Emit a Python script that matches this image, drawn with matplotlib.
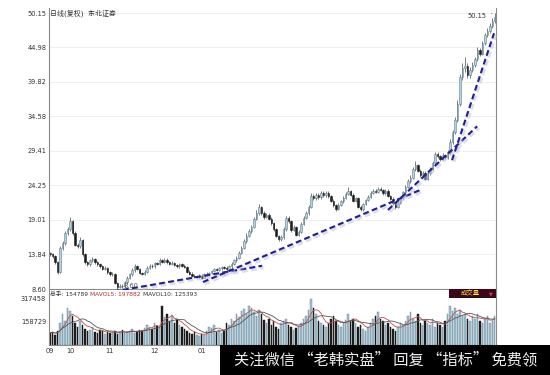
import matplotlib
matplotlib.use("Agg")
import matplotlib.pyplot as plt
import matplotlib.patheffects as pe
from matplotlib.patches import Rectangle
import numpy as np
import pandas as pd

plt.rcParams['font.family'] = ['DejaVu Sans', 'Noto Sans CJK SC']

###############################################################################
# Data

closes = [
    13.8, 13.5, 12.6, 11.2, 14.8, 15.5, 17.0, 17.6, 18.9, 17.1,
    15.2, 15.0, 16.0, 13.8, 12.6, 12.3, 12.9, 13.1, 12.6, 12.3,
    12.0, 11.6, 11.8, 11.1, 10.8, 10.9, 9.5, 8.9, 9.1, 9.0,
    9.6, 10.3, 10.8, 11.4, 12.0, 11.6, 11.0, 10.9, 11.2, 11.8,
    12.1, 12.0, 12.5, 12.4, 12.9, 12.7, 13.0, 12.6, 12.4, 12.5,
    12.2, 12.0, 12.3, 12.1, 11.9, 11.2, 10.9, 10.6, 10.4, 10.5,
    10.6, 10.3, 10.8, 10.9, 11.0, 11.3, 11.6, 11.5, 11.7, 11.9,
    11.8, 11.6, 12.0, 12.4, 12.9, 13.3, 14.0, 14.8, 15.9, 16.6,
    17.3, 18.0, 19.2, 20.1, 20.9, 20.0, 19.5, 19.8, 19.2, 18.5,
    17.6, 16.6, 16.1, 16.4, 17.6, 19.3, 18.8, 17.5, 17.9, 16.8,
    17.2, 18.4, 19.3, 20.0, 21.0, 22.6, 22.3, 22.8, 22.5, 23.0,
    22.7, 23.1, 22.6, 21.9, 21.2, 20.7, 21.3, 21.8, 22.3, 22.9,
    23.3, 22.8, 21.9, 22.3, 21.0, 20.6, 21.4, 22.0, 22.5, 23.1,
    23.4, 23.2, 23.7, 23.5, 23.0, 23.4, 22.6, 22.2, 21.5, 21.0,
    21.6, 22.4, 23.2, 24.0, 24.8, 25.3, 26.6, 27.2, 26.4, 25.8,
    26.1, 25.2, 26.0, 26.7, 27.5, 28.9, 28.6, 28.2, 28.8, 28.5,
    29.3, 30.8, 32.2, 34.0, 36.5, 40.5, 41.8, 42.2, 40.8, 41.6,
    42.3, 43.2, 44.6, 44.0, 45.6, 46.8, 47.4, 48.2, 49.0, 49.6,
]
first_open = 14.0

highs = [
    14.2, 14.0, 13.7, 12.8, 15.1, 15.8, 17.3, 18.0, 19.4, 19.0,
    17.3, 15.5, 16.4, 16.2, 14.0, 12.8, 13.1, 13.4, 13.2, 12.8,
    12.5, 12.2, 12.0, 11.9, 11.3, 11.1, 11.0, 9.7, 9.3, 9.3,
    9.8, 10.5, 11.0, 11.7, 12.4, 12.2, 11.8, 11.2, 11.4, 12.0,
    12.3, 12.3, 12.7, 12.7, 13.2, 13.1, 13.3, 13.2, 12.8, 12.8,
    12.7, 12.4, 12.5, 12.5, 12.3, 12.0, 11.4, 11.1, 10.8, 10.7,
    10.8, 10.8, 11.0, 11.1, 11.2, 11.5, 11.8, 11.8, 11.9, 12.1,
    12.1, 12.0, 12.2, 12.6, 13.1, 13.6, 14.3, 15.1, 16.2, 17.0,
    17.6, 18.3, 19.5, 20.5, 21.4, 21.1, 20.3, 20.1, 20.0, 19.4,
    18.7, 17.8, 16.8, 16.7, 17.9, 19.6, 19.6, 19.0, 18.2, 18.1,
    17.5, 18.7, 19.6, 20.3, 21.3, 23.0, 22.9, 23.1, 23.0, 23.3,
    23.3, 23.4, 23.3, 22.8, 22.1, 21.4, 21.5, 22.0, 22.6, 23.2,
    23.9, 23.5, 23.0, 22.5, 22.5, 21.2, 21.6, 22.2, 22.7, 23.4,
    23.7, 23.6, 24.0, 23.9, 23.7, 23.6, 23.6, 22.8, 22.4, 21.7,
    21.8, 22.6, 23.4, 24.3, 25.1, 25.7, 27.0, 27.8, 27.4, 26.6,
    26.4, 26.3, 26.2, 26.9, 27.8, 29.3, 29.2, 28.8, 29.1, 29.0,
    29.6, 31.2, 32.6, 34.5, 37.0, 41.0, 42.6, 43.5, 42.6, 42.0,
    42.7, 43.6, 45.0, 44.9, 46.0, 47.2, 47.9, 48.6, 49.4, 50.15,
]

lows = [
    13.5, 13.2, 12.3, 10.9, 11.0, 14.5, 15.2, 16.8, 17.4, 16.8,
    15.0, 14.7, 14.8, 13.6, 12.3, 12.0, 12.1, 12.7, 12.4, 12.1,
    11.8, 11.4, 11.4, 10.9, 10.6, 10.6, 9.3, 8.6, 8.7, 8.8,
    8.9, 9.4, 10.1, 10.6, 11.2, 11.4, 10.8, 10.7, 10.7, 11.0,
    11.6, 11.8, 11.8, 12.2, 12.2, 12.5, 12.5, 12.4, 12.2, 12.2,
    12.0, 11.8, 11.8, 11.9, 11.7, 11.0, 10.7, 10.4, 10.2, 10.2,
    10.3, 10.1, 10.2, 10.6, 10.7, 10.8, 11.1, 11.3, 11.3, 11.5,
    11.6, 11.4, 11.4, 11.8, 12.2, 12.7, 13.1, 13.8, 14.6, 15.6,
    16.4, 17.0, 17.8, 19.0, 19.8, 19.8, 19.2, 19.3, 19.0, 18.3,
    17.4, 16.4, 15.8, 15.9, 16.2, 17.4, 18.5, 17.2, 17.3, 16.6,
    16.6, 17.0, 18.2, 19.1, 19.8, 20.8, 22.0, 22.0, 22.2, 22.2,
    22.4, 22.5, 22.3, 21.7, 21.0, 20.4, 20.5, 21.1, 21.6, 22.1,
    22.7, 22.6, 21.7, 21.7, 20.8, 20.3, 20.4, 21.2, 21.8, 22.3,
    22.9, 23.0, 23.0, 23.3, 22.8, 22.8, 22.4, 22.0, 21.3, 20.7,
    20.8, 21.4, 22.2, 23.0, 23.8, 24.6, 25.1, 26.3, 26.2, 25.5,
    25.5, 25.0, 25.0, 25.8, 26.5, 27.3, 28.3, 27.9, 28.0, 28.2,
    28.2, 29.0, 30.5, 32.0, 33.8, 36.2, 40.0, 41.2, 40.3, 40.4,
    41.3, 42.0, 43.0, 43.7, 43.8, 45.3, 46.5, 47.1, 47.9, 48.7,
]

volumes = [
    82800, 89700, 69000, 96600, 151800, 207000, 165600, 248400, 227700, 193200,
    151800, 124200, 165600, 138000, 110400, 96600, 103500, 124200, 89700, 82800,
    103500, 96600, 75900, 89700, 82800, 82800, 96600, 75900, 89700, 103500,
    82800, 89700, 96600, 110400, 82800, 89700, 103500, 96600, 117300, 138000,
    124200, 110400, 151800, 131100, 117300, 262200, 186300, 207000, 165600, 193200,
    151800, 172500, 138000, 124200, 110400, 96600, 82800, 75900, 89700, 69000,
    62100, 75900, 69000, 96600, 124200, 117300, 138000, 89700, 103500, 82800,
    96600, 151800, 138000, 179400, 165600, 207000, 186300, 227700, 241500, 207000,
    262200, 248400, 220800, 193200, 234600, 207000, 172500, 151800, 179400, 138000,
    165600, 124200, 110400, 151800, 165600, 179400, 138000, 124200, 103500, 117300,
    131100, 151800, 179400, 193200, 234600, 310500, 248400, 207000, 165600, 151800,
    138000, 124200, 151800, 179400, 193200, 165600, 138000, 124200, 151800, 172500,
    207000, 165600, 179400, 151800, 124200, 138000, 110400, 96600, 124200, 151800,
    179400, 193200, 220800, 179400, 165600, 138000, 151800, 124200, 110400, 96600,
    124200, 151800, 138000, 165600, 193200, 220800, 179400, 165600, 207000, 151800,
    138000, 165600, 151800, 138000, 179400, 124200, 151800, 138000, 124200, 165600,
    207000, 262200, 227700, 248400, 207000, 234600, 193200, 207000, 179400, 165600,
    193200, 179400, 207000, 165600, 151800, 179400, 193200, 151800, 165600, 193200,
]

price_ticks = [8.60, 13.84, 19.01, 24.25, 29.41, 34.58, 39.82, 44.98, 50.15]
vol_ticks = [158729, 317458]

# month label positions (candle index) and names
month_pos = [0, 8, 24, 42, 61]
month_labels = ["09", "10", "11", "12", "01"]

# hand drawn trend lines: (x0, p0, x1, p1) in candle index / price
trend_lines = [
    (22.0, 8.0, 85.3, 12.1),
    (61.5, 9.65, 148.9, 23.5),
    (136.0, 20.5, 171.9, 33.1),
    (161.8, 28.0, 178.7, 47.1),
]

###############################################################################

N = len(closes)
x = np.arange(N)
c = np.array(closes)
o = np.concatenate([[first_open], c[:-1]])
h = np.array(highs)
l = np.array(lows)
v = np.array(volumes)
up = c >= o

UP_FACE = "#b3d0dc"
UP_EDGE = "#5f8495"
DOWN = "#1c1c1c"

fig = plt.figure(figsize=(5.5, 3.75), dpi=100)
ax = fig.add_axes([0.0891, 0.2293, 0.8127, 0.7493])
axv = fig.add_axes([0.0891, 0.08, 0.8127, 0.1467], sharex=ax)

# price candles
ax.vlines(x, l, h, color="#4a4a4a", linewidth=0.5, zorder=2)
body = np.where(np.abs(c - o) < 0.08, 0.08, c - o)
ax.bar(x[up], body[up], bottom=o[up], width=0.6,
       color=UP_FACE, edgecolor=UP_EDGE, linewidth=0.4, zorder=3)
ax.bar(x[~up], body[~up], bottom=o[~up], width=0.6,
       color=DOWN, edgecolor=DOWN, linewidth=0.4, zorder=3)

ax.set_xlim(-0.5, N - 0.5)
ax.set_ylim(8.60, 50.9)
ax.set_yticks(price_ticks)
ax.set_yticklabels(["%.2f" % t for t in price_ticks])
ax.yaxis.grid(True, color="#ececec", linewidth=0.6)
ax.set_axisbelow(True)
ax.tick_params(axis="y", length=0, labelsize=4.8, labelcolor="#333333", pad=2)
ax.tick_params(axis="x", bottom=False, labelbottom=False)
ax.spines["top"].set_visible(False)
for s in ["left", "right", "bottom"]:
    ax.spines[s].set_color("#8a8a8a")
    ax.spines[s].set_linewidth(0.8)

# trend lines
for x0, p0, x1, p1 in trend_lines:
    ax.plot([x0, x1], [p0, p1], color="#1f1f8f", linewidth=1.5,
            linestyle=(0, (2.8, 1.6)), clip_on=False, zorder=5,
            path_effects=[pe.SimpleLineShadow(offset=(1.0, -1.0), shadow_color="#b8bce0",
                                              alpha=0.5, linewidth=3.0),
                          pe.Normal()])

ax.text(0.003, 0.994, "日线(复权)  东北证券", transform=ax.transAxes,
        fontsize=5, color="#333333", va="top", ha="left")

imax = int(np.argmax(h))
imin = int(np.argmin(l))
ax.annotate("%.2f" % h[imax], xy=(imax, h[imax]), xytext=(imax - 3.5, h[imax] - 0.4),
            fontsize=4.8, color="#333333", ha="right", va="center",
            arrowprops=dict(arrowstyle="-", color="#333333", lw=0.5))
ax.annotate("%.2f" % l[imin], xy=(imin, l[imin]), xytext=(imin + 2.5, l[imin] + 0.5),
            fontsize=4.8, color="#555555", ha="left", va="center",
            arrowprops=dict(arrowstyle="-", color="#555555", lw=0.5))

# volume
axv.bar(x[up], v[up], width=0.6, color="#a3c3d2", edgecolor=UP_EDGE, linewidth=0.3)
axv.bar(x[~up], v[~up], width=0.6, color=DOWN, edgecolor=DOWN, linewidth=0.3)
ma5 = pd.Series(v).rolling(5, min_periods=1).mean()
ma10 = pd.Series(v).rolling(10, min_periods=1).mean()
axv.plot(x, ma5, color="#c0504d", linewidth=0.6)
axv.plot(x, ma10, color="#555555", linewidth=0.6)
axv.set_ylim(0, 372600)
axv.set_yticks(vol_ticks)
axv.set_yticklabels([str(t) for t in vol_ticks])
axv.tick_params(axis="y", length=0, labelsize=4.8, labelcolor="#333333", pad=2)
axv.set_xticks(month_pos)
axv.set_xticklabels(month_labels)
axv.tick_params(axis="x", length=0, labelsize=4.8, labelcolor="#333333", pad=2)
axv.spines["top"].set_visible(False)
for s in ["left", "right", "bottom"]:
    axv.spines[s].set_color("#8a8a8a")
    axv.spines[s].set_linewidth(0.8)

# indicator line, each part placed right after the previous one
t1 = fig.text(0.091, 0.216, "总手: %d" % 154789, fontsize=4.2, color="#333333", va="center")
t2 = fig.text(0, 0, "MAVOL5: %d" % 197882, fontsize=4.2, color="#b03030", va="center")
t3 = fig.text(0, 0, "MAVOL10: %d" % 125393, fontsize=4.2, color="#333333", va="center")
fig.canvas.draw()
r = fig.canvas.get_renderer()
prev = t1
for t in (t2, t3):
    bb = prev.get_window_extent(r)
    t.set_position(((bb.x1 + 2) / fig.bbox.width, 0.216))
    prev = t

# "成交量" box
fig.patches.append(Rectangle((0.8164, 0.2053), 0.0854, 0.024, transform=fig.transFigure,
                             facecolor="#3a0818", edgecolor="none"))
fig.text(0.855, 0.217, "成交量", fontsize=4.6, color="#f0e040", ha="center", va="center",
         family=["Noto Sans CJK SC", "DejaVu Sans"])
fig.text(0.893, 0.217, "▼", fontsize=3.5, color="#e04040", ha="center", va="center")

# watermark banner
fig.patches.append(Rectangle((0.4, 0.0), 0.6, 0.08, transform=fig.transFigure,
                             facecolor="#000000", edgecolor="none", zorder=10))
fig.text(0.702, 0.04, "关注微信 “老韩实盘” 回复 “指标” 免费领", fontsize=11,
         color="#eeeeee", ha="center", va="center", zorder=11,
         family=["Noto Sans CJK SC", "DejaVu Sans"])

fig.savefig("out.png", dpi=100)
